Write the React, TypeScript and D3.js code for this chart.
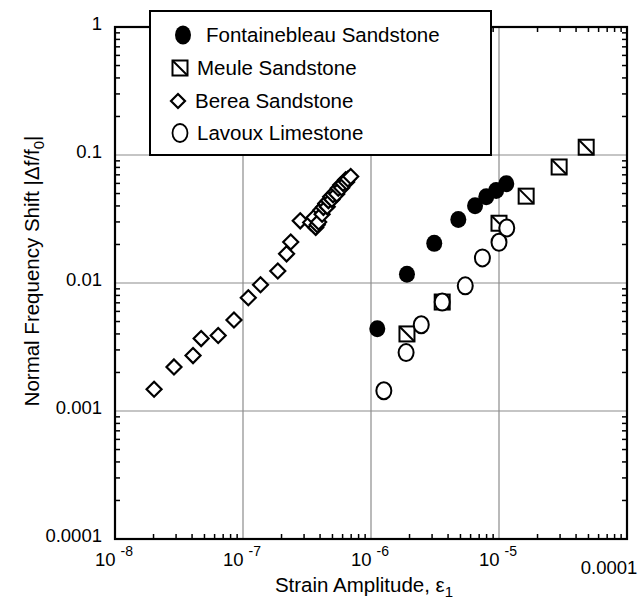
import React from "react";
import * as d3 from "d3";

// Strain amplitude (x) and normalised frequency shift |Δf/f0| (y) for each rock
const fontainebleauStrain = [1.12e-6, 1.91e-6, 3.12e-6, 4.81e-6, 6.5e-6, 7.95e-6, 9.5e-6, 1.14e-5];
const fontainebleauShift = [0.0044, 0.0117, 0.0204, 0.0313, 0.0401, 0.0472, 0.0528, 0.0597];

const meuleStrain = [1.91e-6, 3.6e-6, 1.0e-5, 1.63e-5, 2.95e-5, 4.8e-5];
const meuleShift = [0.004, 0.0071, 0.0293, 0.0477, 0.0806, 0.115];

const bereaStrain = [
  2.02e-8, 2.89e-8, 4.07e-8, 4.71e-8, 6.4e-8, 8.5e-8, 1.1e-7, 1.37e-7, 1.87e-7, 2.19e-7,
  2.36e-7, 2.8e-7, 3.38e-7, 3.59e-7, 3.7e-7, 3.8e-7, 3.9e-7, 4.05e-7, 4.15e-7, 4.25e-7,
  4.43e-7, 4.55e-7, 4.65e-7, 4.84e-7, 4.95e-7, 5.05e-7, 5.3e-7, 5.4e-7, 5.55e-7, 5.8e-7,
  5.9e-7, 6.05e-7, 6.34e-7, 6.45e-7, 6.6e-7, 6.94e-7,
];
const bereaShift = [
  0.00148, 0.00221, 0.00271, 0.00368, 0.00389, 0.00514, 0.00767, 0.0097, 0.0124, 0.0169,
  0.0209, 0.0306, 0.0297, 0.0325, 0.0272, 0.0285, 0.03, 0.037, 0.0345, 0.039,
  0.0417, 0.0395, 0.044, 0.0471, 0.045, 0.049, 0.0516, 0.0495, 0.055, 0.0583,
  0.0555, 0.06, 0.0641, 0.0615, 0.065, 0.068,
];

const lavouxStrain = [1.26e-6, 1.88e-6, 2.47e-6, 3.6e-6, 5.45e-6, 7.42e-6, 1.0e-5, 1.15e-5];
const lavouxShift = [0.00144, 0.00286, 0.00472, 0.0071, 0.0095, 0.0157, 0.0208, 0.0269];

const seriesNames = [
  "Fontainebleau Sandstone",
  "Meule Sandstone",
  "Berea Sandstone",
  "Lavoux Limestone",
];

const xDecades = [-8, -7, -6, -5, -4];
const yTickLabels = ["0.0001", "0.001", "0.01", "0.1", "1"];
const yTickValues = [1e-4, 1e-3, 1e-2, 1e-1, 1];

const W = 644;
const H = 604;
const PL = 115;
const PR = 627;
const PT = 27;
const PB = 539;

const FONT = "'Liberation Sans', Arial, Helvetica, sans-serif";

const x = d3.scaleLog().domain([1e-8, 1e-4]).range([PL, PR]);
const y = d3.scaleLog().domain([1e-4, 1]).range([PB, PT]);

const zip = (a: number[], b: number[]) => a.map((v, i) => [v, b[i]] as [number, number]);

function minorValues(lo: number, hi: number) {
  const out: number[] = [];
  for (let e = lo; e < hi; e++) {
    for (let m = 2; m <= 9; m++) out.push(m * Math.pow(10, e));
  }
  return out;
}

const Square = ({ cx, cy, s = 7.5 }: { cx: number; cy: number; s?: number }) => (
  <g>
    <rect x={cx - s} y={cy - s} width={2 * s} height={2 * s} fill="#fff" stroke="#000" strokeWidth={2} />
    <line x1={cx - s} y1={cy - s} x2={cx + s} y2={cy + s} stroke="#000" strokeWidth={2} />
  </g>
);

const Diamond = ({ cx, cy, s = 7.5 }: { cx: number; cy: number; s?: number }) => (
  <path
    d={`M${cx},${cy - s}L${cx + s},${cy}L${cx},${cy + s}L${cx - s},${cy}Z`}
    fill="#fff"
    stroke="#000"
    strokeWidth={2.2}
  />
);

export default function App() {
  const xMinor = minorValues(-8, -4);
  const yMinor = minorValues(-4, 0);
  const xMajor = xDecades.map((e) => Math.pow(10, e));
  const tick = 5;

  return (
    <svg
      width={W}
      height={H}
      viewBox={`0 0 ${W} ${H}`}
      style={{ position: "absolute", left: 0, top: 0, background: "#fff" }}
      fontFamily={FONT}
    >
      <rect width={W} height={H} fill="#fff" />

      {/* grid */}
      <g stroke="#8c8c8c" strokeWidth={1.2}>
        {xMajor.slice(1, -1).map((v) => (
          <line key={"gx" + v} x1={x(v)} x2={x(v)} y1={PT} y2={PB} />
        ))}
        {yTickValues.slice(1, -1).map((v) => (
          <line key={"gy" + v} x1={PL} x2={PR} y1={y(v)} y2={y(v)} />
        ))}
      </g>

      {/* minor ticks, all pointing inward */}
      <g stroke="#000" strokeWidth={1.5}>
        {xMinor.map((v) => (
          <g key={"tx" + v}>
            <line x1={x(v)} x2={x(v)} y1={PB} y2={PB - tick} />
            <line x1={x(v)} x2={x(v)} y1={PT} y2={PT + tick} />
          </g>
        ))}
        {yMinor.map((v) => (
          <g key={"ty" + v}>
            <line x1={PL} x2={PL + tick} y1={y(v)} y2={y(v)} />
            <line x1={PR} x2={PR - tick} y1={y(v)} y2={y(v)} />
          </g>
        ))}
      </g>

      {/* frame */}
      <rect x={PL} y={PT} width={PR - PL} height={PB - PT} fill="none" stroke="#000" strokeWidth={2.2} />

      {/* data */}
      <g>
        {zip(bereaStrain, bereaShift).map(([a, b], i) => (
          <Diamond key={"b" + i} cx={x(a)} cy={y(b)} />
        ))}
        {zip(meuleStrain, meuleShift).map(([a, b], i) => (
          <Square key={"m" + i} cx={x(a)} cy={y(b)} />
        ))}
        {zip(lavouxStrain, lavouxShift).map(([a, b], i) => (
          <ellipse key={"l" + i} cx={x(a)} cy={y(b)} rx={7.5} ry={8.5} fill="#fff" stroke="#000" strokeWidth={2} />
        ))}
        {zip(fontainebleauStrain, fontainebleauShift).map(([a, b], i) => (
          <ellipse key={"f" + i} cx={x(a)} cy={y(b)} rx={8} ry={8.5} fill="#000" />
        ))}
      </g>

      {/* legend */}
      <g>
        <rect x={150} y={11} width={341} height={144} fill="#fff" stroke="#000" strokeWidth={2} />
        <ellipse cx={183} cy={35} rx={8} ry={9.5} fill="#000" />
        <Square cx={180} cy={68} s={7.5} />
        <Diamond cx={178} cy={101} s={7} />
        <ellipse cx={180} cy={133} rx={7.5} ry={9} fill="#fff" stroke="#000" strokeWidth={1.8} />
        <g fontSize={20.5} fill="#000">
          <text x={206} y={42}>{seriesNames[0]}</text>
          <text x={197} y={75}>{seriesNames[1]}</text>
          <text x={195} y={108}>{seriesNames[2]}</text>
          <text x={197} y={140}>{seriesNames[3]}</text>
        </g>
      </g>

      {/* y tick labels */}
      <g fontSize={18.5} textAnchor="end" fill="#000">
        {yTickValues.map((v, i) => (
          <text key={"yl" + v} x={PL - 13} y={y(v) + 3}>
            {yTickLabels[i]}
          </text>
        ))}
      </g>

      {/* x tick labels */}
      <g fontSize={18.5} textAnchor="middle" fill="#000">
        {xDecades.slice(0, -1).map((e) => (
          <text key={"xl" + e} x={x(Math.pow(10, e)) - 1} y={566}>
            10
            <tspan fontSize={14} dx={5} dy={-10}>
              {String(e)}
            </tspan>
          </text>
        ))}
        <text x={x(1e-4) - 18} y={574}>
          0.0001
        </text>
      </g>

      {/* axis titles */}
      <text x={364} y={592} fontSize={20.5} textAnchor="middle" fill="#000">
        Strain Amplitude, ε
        <tspan fontSize={15} dy={5}>1</tspan>
      </text>
      <text
        transform={`translate(39, 271) rotate(-90)`}
        fontSize={20.5}
        textAnchor="middle"
        fill="#000"
      >
        Normal Frequency Shift  |Δf/f
        <tspan fontSize={15} dy={5}>0</tspan>
        <tspan dy={-5}>|</tspan>
      </text>
    </svg>
  );
}
